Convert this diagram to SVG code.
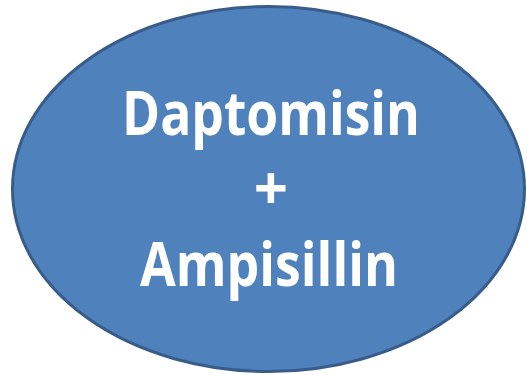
<svg xmlns="http://www.w3.org/2000/svg" width="527" height="375" viewBox="0 0 527 375">
<style>
.shape{fill:#4F81BD;stroke:#385D8A;stroke-width:3}
.lbl{font-family:"Open Sans","Liberation Sans",sans-serif;font-weight:bold;fill:#FFFFFF;text-anchor:middle;font-size:60px}
</style>
<rect width="527" height="375" fill="#FFFFFF"/>
<g id="node-combo">
<ellipse class="shape" cx="268.5" cy="189" rx="256" ry="182.5"/>
<text class="lbl" x="271" y="135" textLength="298" lengthAdjust="spacingAndGlyphs">Daptomisin</text>
<text class="lbl" x="271" y="210">+</text>
<text class="lbl" x="269" y="286" textLength="258" lengthAdjust="spacingAndGlyphs">Ampisillin</text>
</g>
</svg>
